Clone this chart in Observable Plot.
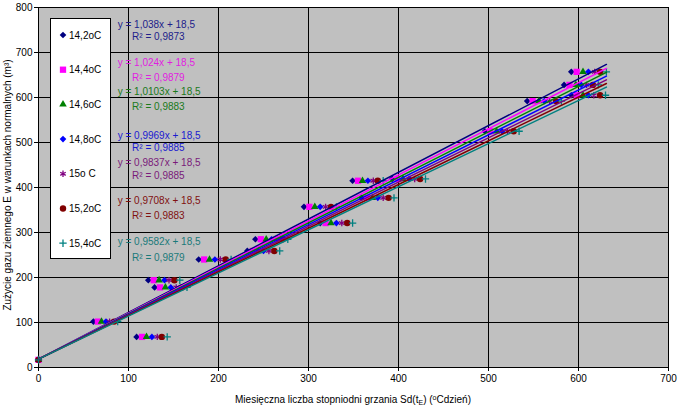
<!DOCTYPE html>
<html><head><meta charset="utf-8">
<script src="https://cdn.jsdelivr.net/npm/d3@7"></script>
<script src="https://cdn.jsdelivr.net/npm/@observablehq/plot@0.6"></script>
<style>
body{margin:0;background:#fff}
#chart svg{display:block}
</style>
</head><body><div id="chart"></div>
<script>
// ---- data ----
const seriesNames = ["14,2oC", "14,4oC", "14,6oC", "14,8oC", "15o C", "15,2oC", "15,4oC"];
const gasUse = [17, 68, 102, 178, 194, 240, 259, 285, 321, 357, 377, 415, 419, 525, 592, 605, 628, 657];
const sd142 = [0, 109, 61, 129, 122, 178, 232, 241, 313, 295, 359, 349, 393, 496, 543, 592, 584, 592];
const sd144 = [0, 115, 66, 135, 128, 184, 238, 247, 319, 301, 365, 355, 399, 502, 549, 598, 590, 598];
const sd146 = [0, 120, 70, 141, 134, 190, 244, 253, 325, 307, 371, 360, 405, 509, 556, 605, 597, 605];
const sd148 = [0, 126, 75, 147, 140, 196, 250, 259, 331, 313, 377, 366, 412, 515, 562, 611, 603, 611];
const sd150 = [0, 132, 79, 153, 145, 202, 256, 265, 337, 319, 383, 372, 418, 521, 568, 617, 609, 618];
const sd152 = [0, 137, 84, 159, 151, 208, 262, 271, 343, 325, 389, 377, 424, 528, 575, 624, 616, 624];
const sd154 = [0, 143, 88, 165, 157, 214, 268, 277, 349, 331, 395, 383, 430, 534, 581, 630, 622, 631];
const slopes = [1.038, 1.024, 1.0103, 0.9969, 0.9837, 0.9708, 0.9582];
const slopeLabels = ["1,038", "1,024", "1,0103", "0,9969", "0,9837", "0,9708", "0,9582"];
const r2Labels = ["0,9873", "0,9879", "0,9883", "0,9885", "0,9885", "0,9883", "0,9879"];
const intercept = 18.5;
const interceptLabel = "18,5";
const xTicks = [0, 100, 200, 300, 400, 500, 600, 700];
const yTicks = [0, 100, 200, 300, 400, 500, 600, 700, 800];

// ---- styles / layout ----
const sdSeries = [sd142, sd144, sd146, sd148, sd150, sd152, sd154];
const colors = ["#000080", "#FF00FF", "#008000", "#0000FF", "#800080", "#800000", "#008080"];
const textColors = ["#20208a", "#e020e0", "#1a7a1a", "#1a1ad0", "#7a1a7a", "#801010", "#1a7a7a"];
const symbols = ["diamond2", "square2", "triangle2", "diamond2", "asterisk", "circle", "plus"];
const radii = [3, 4, 3.6, 3, 3, 3.2, 2.5];
const eqY = [762, 678, 613, 516, 456, 371, 280];
const r2Y = [735, 644, 580, 489, 427, 338, 244];
const FONT = "'Liberation Sans', Arial, sans-serif";

const xMax = d3.max(sdSeries.flat());
const marks = [
  Plot.frame({fill: "#C0C0C0", stroke: null}),
  Plot.gridX(xTicks, {stroke: "#000", strokeOpacity: 1}),
  Plot.gridY(yTicks, {stroke: "#000", strokeOpacity: 1}),
  Plot.axisX(xTicks, {tickSize: 4, tickPadding: 3, label: null, tickFormat: d => d}),
  Plot.axisY(yTicks, {tickSize: 4, tickPadding: 2, label: null, tickFormat: d => d})
];
sdSeries.forEach((xs, i) => {
  const rows = gasUse.map((y, j) => ({x: xs[j], y}));
  const stroked = symbols[i] === "asterisk" || symbols[i] === "plus";
  marks.push(Plot.dot(rows, {
    x: "x", y: "y", symbol: symbols[i], r: radii[i],
    fill: stroked ? "none" : colors[i],
    stroke: stroked ? colors[i] : "none",
    strokeWidth: stroked ? 1.3 : 0
  }));
});
slopes.forEach((a, i) => {
  marks.push(Plot.line([[0, intercept], [xMax, a * xMax + intercept]], {stroke: colors[i], strokeWidth: 1.5}));
});
slopes.forEach((a, i) => {
  marks.push(Plot.text([`y = ${slopeLabels[i]}x + ${interceptLabel}`], {
    x: 88, y: eqY[i], text: d => d, textAnchor: "start", fill: textColors[i], fontSize: 10
  }));
  marks.push(Plot.text([`R² = ${r2Labels[i]}`], {
    x: 104, y: r2Y[i], text: d => d, textAnchor: "start", fill: textColors[i], fontSize: 10
  }));
});

const plot = Plot.plot({
  width: 679, height: 407,
  marginLeft: 38, marginRight: 11, marginTop: 7, marginBottom: 40,
  x: {domain: [0, 700]},
  y: {domain: [0, 800]},
  style: {fontFamily: FONT, fontSize: "10px", color: "#000", background: "#fff"},
  marks
});

const svg = d3.select(plot);
// legend
const lg = svg.append("g").attr("text-anchor", "start");
lg.append("rect").attr("x", 50.5).attr("y", 18.5).attr("width", 60).attr("height", 240)
  .attr("fill", "#fff").attr("stroke", "#000");
const symMap = {diamond2: d3.symbolDiamond2, square2: d3.symbolSquare2, triangle2: d3.symbolTriangle2,
  asterisk: d3.symbolAsterisk, circle: d3.symbolCircle, plus: d3.symbolPlus};
seriesNames.forEach((n, i) => {
  const cy = 35 + i * 34.7;
  const stroked = symbols[i] === "asterisk" || symbols[i] === "plus";
  lg.append("path")
    .attr("d", d3.symbol().type(symMap[symbols[i]]).size(Math.PI * radii[i] * radii[i])())
    .attr("transform", `translate(63,${cy})`)
    .attr("fill", stroked ? "none" : colors[i])
    .attr("stroke", stroked ? colors[i] : "none")
    .attr("stroke-width", 1.3);
  lg.append("text").attr("x", 69).attr("y", cy).attr("dy", "0.35em").attr("text-anchor", "start")
    .attr("font-family", FONT).attr("font-size", 10).attr("fill", "#000").text(n);
});
// axis titles
svg.append("text").attr("transform", "translate(11,185) rotate(-90)")
  .attr("text-anchor", "middle").attr("font-family", FONT).attr("font-size", 10).attr("fill", "#000")
  .text("Zużycie gazu ziemnego E w warunkach normalnych (m³)");
const xt = svg.append("text").attr("x", 353).attr("y", 403)
  .attr("text-anchor", "middle").attr("font-family", FONT).attr("font-size", 10).attr("fill", "#000");
xt.append("tspan").text("Miesięczna liczba stopniodni grzania Sd(t");
xt.append("tspan").attr("font-size", 7).attr("dy", 2).text("E");
xt.append("tspan").attr("dy", -2).text(") (");
xt.append("tspan").attr("font-size", 7).attr("dy", -3).text("o");
xt.append("tspan").attr("dy", 3).text("Cdzień)");

document.getElementById("chart").appendChild(plot);
</script>
</body></html>
